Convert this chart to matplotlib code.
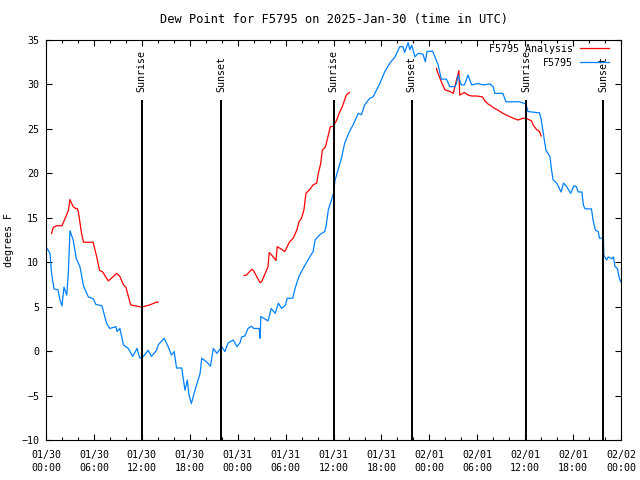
import matplotlib
matplotlib.use("Agg")
import matplotlib.pyplot as plt
import numpy as np

plt.rcParams['font.family'] = ['DejaVu Sans Mono']
plt.rcParams['font.size'] = 7.2

# hours since 01/30 00:00 UTC
obs_hours = [0.0, 0.5, 0.7, 1.0, 1.5, 1.75, 2.0, 2.25, 2.6, 2.8, 3.0, 3.4, 3.8, 4.25, 4.7,
             5.3, 5.9, 6.25, 7.0, 7.6, 8.0, 8.75, 8.9, 9.25, 9.7, 10.3, 10.85, 11.4, 11.75,
             12.2, 12.8, 13.2, 13.85, 14.05, 14.8, 15.3, 15.7, 16.05, 16.35, 17.0, 17.4, 17.7,
             17.9, 18.2, 18.65, 19.3, 19.5, 20.1, 20.6, 20.95, 21.4, 22.0, 22.4, 22.8, 23.45,
             23.9, 24.3, 24.5, 24.9, 25.3, 25.75, 26.0, 26.7, 26.8, 26.9, 27.8, 28.2, 28.7,
             29.1, 29.5, 30.0, 30.2, 30.9, 31.2, 31.7, 32.2, 32.8, 33.45, 33.7, 34.3, 34.9,
             35.1, 35.35, 35.75, 36.0, 36.2, 36.8, 37.0, 37.4, 38.0, 38.45, 39.1, 39.5, 39.9,
             40.55, 40.95, 41.8, 42.4, 43.05, 43.7, 44.3, 44.7, 44.9, 45.35, 45.55, 45.8, 46.2,
             46.6, 47.2, 47.5, 47.7, 48.4, 48.7, 49.1, 49.5, 50.15, 50.55, 51.2, 51.4, 51.6,
             52.0, 52.4, 52.85, 53.3, 54.1, 54.7, 55.6, 56.0, 56.2, 57.2, 57.6, 59.3, 60.1,
             60.35, 61.8, 62.0, 62.4, 62.6, 63.1, 63.3, 63.5, 63.95, 64.5, 64.8, 65.2, 65.7,
             66.1, 66.4, 66.65, 67.1, 67.3, 67.5, 68.3, 68.5, 68.8, 69.15, 69.3, 69.8, 69.85,
             70.2, 70.4, 70.85, 71.05, 71.25, 71.55, 71.8, 71.97]
obs_dewpt = [11.75, 11.0, 8.75, 7.0, 6.9, 5.75, 5.1, 7.2, 6.3, 8.9, 13.55, 12.5, 10.4, 9.5, 7.3,
             6.1, 5.9, 5.25, 5.1, 3.1, 2.55, 2.75, 2.2, 2.55, 0.7, 0.3, -0.6, 0.3, -0.8,
             -0.6, 0.1, -0.6, 0.1, 0.7, 1.45, 0.5, -0.45, -0.05, -1.9, -1.9, -4.4, -3.25,
             -4.9, -5.9, -4.4, -2.5, -0.8, -1.2, -1.7, 0.3, -0.25, 0.5, -0.05, 0.9, 1.25,
             0.5, 0.95, 1.6, 1.7, 2.55, 2.8, 2.55, 2.55, 1.45, 3.9, 3.4, 4.8, 4.25,
             5.4, 4.8, 5.2, 5.95, 5.95, 7.1, 8.45, 9.3, 10.25, 11.2, 12.5, 13.1, 13.45,
             14.2, 15.9, 17.0, 17.75, 19.25, 21.1, 21.7, 23.4, 24.7, 25.45, 26.75, 26.6, 27.7,
             28.45, 28.6, 30.1, 31.4, 32.4, 33.1, 34.25, 34.25, 33.6, 34.7, 33.9, 34.4, 33.1,
             33.5, 33.4, 32.55, 33.7, 33.75, 33.1, 32.2, 30.6, 30.6, 29.75, 29.75, 30.1, 31.05,
             29.95, 29.95, 31.05, 29.95, 30.1, 29.95, 30.05, 29.75, 29.0, 29.0, 28.05, 28.05, 27.8,
             26.95, 26.8, 26.1, 23.75, 22.6, 21.9, 20.4, 19.25, 18.9, 17.9, 18.9, 18.5, 17.75,
             18.6, 18.5, 17.9, 17.9, 16.4, 16.0, 16.0, 14.75, 13.6, 13.45, 12.7, 12.7, 10.8,
             10.25, 10.6, 10.4, 10.6, 9.5, 9.3, 8.2, 7.8]

ana_hours = [0.7, 0.9, 1.3, 2.0, 2.4, 2.8, 3.0, 3.4, 3.7, 3.9, 4.05, 4.45, 4.7, 5.9, 6.35,
             6.7, 7.1, 7.8, 8.2, 8.85, 9.25, 9.7, 10.0, 10.6, 11.1, 12.0, 13.0, 13.8, 14.05,
             14.1,
             24.8, 25.1, 25.75, 25.95, 26.8, 27.0, 27.8, 27.95, 28.45, 28.8, 28.95, 29.5, 29.9,
             30.5, 30.95, 31.4, 31.7, 32.0, 32.3, 32.55, 33.05, 33.45, 33.9, 34.1, 34.4, 34.6,
             35.0, 35.3, 35.6, 36.0, 36.4, 36.7, 37.1, 37.6, 38.0,
             38.1,
             48.9, 49.0, 49.5, 49.95, 50.6, 51.0, 51.4, 51.7, 51.8, 52.4, 52.85, 53.3, 53.9,
             54.65, 54.95, 55.35, 55.8, 56.0, 56.6, 57.2, 57.9, 58.5, 59.1, 59.75, 60.1, 60.8,
             61.0, 61.4, 61.8, 62.0]
ana_dewpt = [13.25, 13.9, 14.1, 14.1, 14.95, 15.8, 17.05, 16.25, 16.05, 16.05, 15.7, 13.25, 12.25,
             12.25, 10.6, 9.1, 8.9, 7.9, 8.2, 8.75, 8.4, 7.45, 7.2, 5.2, 5.1, 4.95, 5.2, 5.5, 5.5,
             np.nan,
             8.5, 8.55, 9.2, 9.1, 7.7, 7.8, 9.5, 11.1, 10.6, 10.2, 11.75, 11.45, 11.2,
             12.3, 12.7, 13.6, 14.6, 14.95, 15.9, 17.75, 18.2, 18.7, 18.9, 20.0, 21.1, 22.6,
             23.0, 24.1, 25.25, 25.3, 26.0, 26.75, 27.5, 28.8, 29.1,
             np.nan,
             31.8, 31.45, 30.3, 29.4, 29.2, 29.0, 30.5, 31.55, 28.8, 29.1, 28.8, 28.7, 28.7,
             28.6, 28.15, 27.8, 27.55, 27.4, 27.1, 26.75, 26.45, 26.2, 26.0, 26.2, 26.2, 25.9,
             25.45, 24.95, 24.7, 24.2]

sun_hours = [12.0, 21.9, 36.0, 45.8, 60.1, 69.8]
sun_labels = ["Sunrise", "Sunset", "Sunrise", "Sunset", "Sunrise", "Sunset"]

tick_hours = list(range(0, 73, 6))
tick_labels = ["01/30\n00:00", "01/30\n06:00", "01/30\n12:00", "01/30\n18:00",
               "01/31\n00:00", "01/31\n06:00", "01/31\n12:00", "01/31\n18:00",
               "02/01\n00:00", "02/01\n06:00", "02/01\n12:00", "02/01\n18:00",
               "02/02\n00:00"]

fig = plt.figure(figsize=(6.4, 4.8), dpi=100)
ax = fig.add_axes([46/640, 1 - 440/480, 575/640, 400/480])

ax.plot(ana_hours, ana_dewpt, color='#ff0000', lw=0.9, label='F5795 Analysis')
ax.plot(obs_hours, obs_dewpt, color='#0080ff', lw=0.9, label='F5795')

ax.vlines(sun_hours, -10, 28.25, color='black', lw=1.4)
for h, lab in zip(sun_hours, sun_labels):
    ax.text(h, 29.15, lab, rotation=90, ha='center', va='bottom')

ax.set_xlim(0, 72)
ax.set_ylim(-10, 35)
ax.set_xticks(tick_hours)
ax.set_xticklabels(tick_labels, linespacing=1.45)
ax.set_xticks(range(0, 73, 2), minor=True)
ax.set_yticks(range(-10, 36, 5))
ax.tick_params(which='both', direction='in', top=True, right=True, width=0.8)
ax.tick_params(which='major', length=4.5)
ax.tick_params(which='minor', length=2.5)
ax.tick_params(axis='x', pad=7)
ax.tick_params(axis='y', pad=5)
for s in ax.spines.values():
    s.set_linewidth(0.8)

ax.set_ylabel("degrees F", labelpad=5)
ax.set_title("Dew Point for F5795 on 2025-Jan-30 (time in UTC)", pad=12)

leg = ax.legend(loc='upper right', bbox_to_anchor=(0.995, 1.0125), frameon=False,
                markerfirst=False, handlelength=2.9, handletextpad=0.7,
                labelspacing=0.4, borderpad=0.1, borderaxespad=0.8)
for col in leg._legend_handle_box.get_children():
    col.align = 'right'

fig.savefig('out.png', dpi=100)
